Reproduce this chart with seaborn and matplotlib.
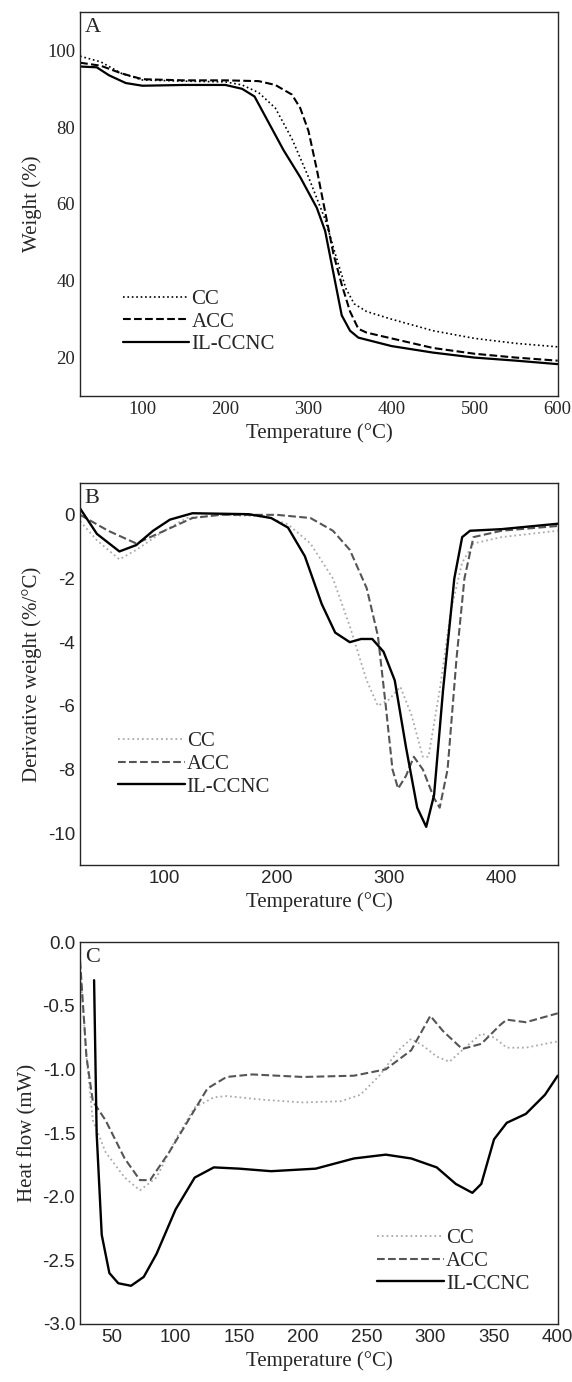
import numpy as np
import pandas as pd
import seaborn as sns
import matplotlib.pyplot as plt

sns.set_style("ticks")
plt.rcParams['font.family'] = ['Liberation Serif', 'DejaVu Serif']
plt.rcParams['axes.unicode_minus'] = False

# ---- Panel A: TGA weight (%)
a_cc_x = [25, 50, 75, 100, 150, 200, 220, 240, 260, 280, 300, 320, 335, 345, 355, 370, 400, 450, 500, 550, 600]
a_cc_y = [98.5, 97, 94, 92.3, 92, 91.8, 91, 89, 85, 77, 67, 56, 45, 38, 34, 32, 30, 27, 25, 23.7, 22.8]
a_acc_x = [25, 50, 75, 100, 150, 200, 240, 260, 280, 290, 300, 310, 320, 330, 340, 350, 360, 370, 400, 450, 500, 550, 600]
a_acc_y = [96.8, 96, 94, 92.5, 92.2, 92.2, 92, 91, 88.5, 85, 79, 69, 58, 47, 39, 32, 27.5, 26.5, 25, 22.5, 21, 20, 19.2]
a_il_x = [25, 45, 60, 80, 100, 150, 200, 220, 235, 250, 270, 290, 310, 320, 330, 340, 350, 360, 400, 450, 500, 550, 600]
a_il_y = [95.8, 95.6, 93.5, 91.5, 90.8, 91, 91, 90, 88, 82, 74, 67, 59, 53, 42, 31, 27, 25.2, 23, 21.3, 20, 19.2, 18.3]

# ---- Panel B: DTG (%/°C)
b_cc_x = [25, 40, 60, 75, 100, 120, 150, 190, 210, 230, 250, 265, 280, 290, 300, 310, 320, 330, 335, 345, 355, 365, 375, 400, 450]
b_cc_y = [-0.2, -0.8, -1.4, -1.1, -0.5, -0.1, 0, -0.05, -0.3, -0.9, -2, -3.5, -5.2, -6, -5.8, -5.4, -6.3, -7.6, -7.6, -5.5, -3, -1.5, -0.9, -0.7, -0.5]
b_acc_x = [25, 50, 75, 100, 125, 150, 200, 230, 250, 265, 280, 290, 297, 303, 308, 315, 322, 330, 340, 345, 352, 360, 367, 375, 400, 450]
b_acc_y = [0, -0.5, -0.9, -0.5, -0.1, 0, 0, -0.1, -0.5, -1.1, -2.3, -3.8, -6, -8, -8.6, -8.2, -7.6, -8, -8.9, -9.2, -8, -4.5, -2, -0.7, -0.5, -0.35]
b_il_x = [25, 40, 60, 75, 90, 105, 125, 175, 195, 210, 225, 240, 252, 265, 275, 285, 295, 305, 315, 325, 333, 340, 348, 358, 365, 372, 400, 450]
b_il_y = [0.2, -0.6, -1.15, -0.95, -0.5, -0.15, 0.05, 0.02, -0.1, -0.4, -1.3, -2.8, -3.7, -4, -3.9, -3.9, -4.3, -5.2, -7.3, -9.2, -9.8, -8.8, -5.5, -2, -0.7, -0.5, -0.45, -0.28]

# ---- Panel C: DSC heat flow (mW)
c_cc_x = [25, 30, 35, 45, 60, 72, 85, 100, 115, 130, 140, 170, 200, 230, 245, 260, 275, 285, 295, 305, 315, 325, 340, 350, 360, 375, 400]
c_cc_y = [-0.2, -0.9, -1.4, -1.65, -1.85, -1.95, -1.85, -1.55, -1.3, -1.22, -1.21, -1.24, -1.26, -1.25, -1.2, -1.05, -0.85, -0.76, -0.82, -0.9, -0.94, -0.85, -0.72, -0.75, -0.83, -0.83, -0.78]
c_acc_x = [25, 30, 35, 45, 60, 72, 80, 95, 110, 125, 140, 160, 200, 240, 265, 285, 300, 310, 325, 340, 355, 360, 375, 400]
c_acc_y = [-0.15, -0.9, -1.25, -1.4, -1.7, -1.87, -1.87, -1.65, -1.4, -1.15, -1.06, -1.04, -1.06, -1.05, -1.0, -0.85, -0.58, -0.7, -0.84, -0.8, -0.65, -0.61, -0.63, -0.56]
c_il_x = [36, 38, 42, 48, 55, 65, 75, 85, 100, 115, 130, 150, 175, 210, 240, 265, 285, 305, 320, 333, 340, 350, 360, 375, 390, 400]
c_il_y = [-0.3, -1.5, -2.3, -2.6, -2.68, -2.7, -2.63, -2.45, -2.1, -1.85, -1.77, -1.78, -1.8, -1.78, -1.7, -1.67, -1.7, -1.77, -1.9, -1.97, -1.9, -1.55, -1.42, -1.35, -1.2, -1.05]

labels = ["CC", "ACC", "IL-CCNC"]

fig = plt.figure(figsize=(5.72, 13.82), dpi=100)
L, R = 0.14, 0.975
H = 1382.0
def add_ax(top_px, bot_px):
    return fig.add_axes([L, 1 - bot_px / H, R - L, (bot_px - top_px) / H])

axA = add_ax(12, 396)
axB = add_ax(483, 865)
axC = add_ax(942, 1324)

def draw(ax, series, styles):
    for (x, y), lab, (c, ls, lw) in zip(series, labels, styles):
        sns.lineplot(x=x, y=y, ax=ax, color=c, linestyle=ls, linewidth=lw, label=lab, sort=False)

draw(axA, [(a_cc_x, a_cc_y), (a_acc_x, a_acc_y), (a_il_x, a_il_y)],
     [("black", ":", 1.2), ("black", "--", 1.5), ("black", "-", 1.6)])
draw(axB, [(b_cc_x, b_cc_y), (b_acc_x, b_acc_y), (b_il_x, b_il_y)],
     [("#aaaaaa", ":", 1.3), ("#555555", "--", 1.5), ("black", "-", 1.7)])
draw(axC, [(c_cc_x, c_cc_y), (c_acc_x, c_acc_y), (c_il_x, c_il_y)],
     [("#aaaaaa", ":", 1.3), ("#555555", "--", 1.5), ("black", "-", 1.7)])

axA.set_xlim(25, 600); axA.set_ylim(10, 110)
axA.set_xticks([100, 200, 300, 400, 500, 600]); axA.set_yticks([20, 40, 60, 80, 100])
axA.set_ylabel("Weight (%)", fontsize=15)
axB.set_xlim(25, 450); axB.set_ylim(-11, 1)
axB.set_xticks([100, 200, 300, 400]); axB.set_yticks([0, -2, -4, -6, -8, -10])
axB.set_ylabel("Derivative weight (%/°C)", fontsize=15)
axC.set_xlim(25, 400); axC.set_ylim(-3, 0)
axC.set_xticks([50, 100, 150, 200, 250, 300, 350, 400])
axC.set_yticks([0, -0.5, -1, -1.5, -2, -2.5, -3])
axC.set_yticklabels(["0.0", "-0.5", "-1.0", "-1.5", "-2.0", "-2.5", "-3.0"])
axC.set_ylabel("Heat flow (mW)", fontsize=15)

for ax, letter in zip([axA, axB, axC], "ABC"):
    ax.set_xlabel("Temperature (°C)", fontsize=15)
    ax.text(0.01, 0.985, letter, transform=ax.transAxes, fontsize=16, va="top", ha="left")
    ax.tick_params(direction="in", length=0, labelsize=13.5)
    for s in ax.spines.values():
        s.set_linewidth(1.0)

for ax in [axB, axC]:
    for t in ax.get_xticklabels() + ax.get_yticklabels():
        t.set_fontfamily(['Liberation Sans', 'DejaVu Sans'])

leg_kw = dict(frameon=False, fontsize=15, handlelength=3.2, handletextpad=0.1, labelspacing=0.15)
axA.legend(loc="lower left", bbox_to_anchor=(0.05, 0.06), **leg_kw)
axB.legend(loc="lower left", bbox_to_anchor=(0.04, 0.13), **leg_kw)
axC.legend(loc="lower right", bbox_to_anchor=(0.98, 0.03), **leg_kw)

fig.savefig("out.png", dpi=100)
